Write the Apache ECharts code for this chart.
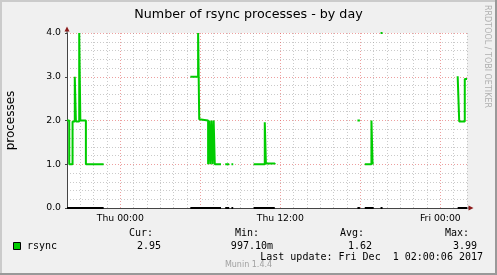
<!DOCTYPE html>
<html>
<head>
<meta charset="utf-8">
<script src="https://cdn.jsdelivr.net/npm/echarts@6/dist/echarts.min.js"></script>
<style>
html,body{margin:0;padding:0;background:#F0F0F0;}
#c{width:497px;height:275px;}
</style>
</head>
<body>
<div id="c"></div>
<script>
// ---- data ----
// sample times (day + HH:MM); a null value breaks the line
const sampleTimes = [
  'Wed 20:00','Wed 20:10','Wed 20:25','Wed 20:35','Wed 20:40','Wed 20:55','Wed 21:00','Wed 21:25','Wed 22:40','Wed 22:45',
  'Thu 05:15','Thu 05:50','Thu 05:55','Thu 06:00','Thu 06:35','Thu 06:40','Thu 06:45','Thu 06:50','Thu 06:55','Thu 07:00','Thu 07:05','Thu 07:33','Thu 07:35',
  'Thu 07:52','Thu 08:10','Thu 08:12',
  'Thu 08:20','Thu 08:28','Thu 08:30',
  'Thu 10:00','Thu 10:50','Thu 10:55','Thu 11:35','Thu 11:37',
  'Thu 17:47','Thu 17:58','Thu 17:59',
  'Thu 18:20','Thu 18:50','Thu 18:55','Thu 19:00','Thu 19:01',
  'Thu 19:31','Thu 19:40','Thu 19:42',
  'Fri 01:18','Fri 01:25','Fri 01:50','Fri 02:00'
];
const rsyncValues = [
  2, 1, 1.98, 3, 1.98, 4, 2, 1, 1, null,
  3, 4, 2.03, 2, 1, 2, 1, 2, 1, 2, 1, 1, null,
  1, 1, null,
  1, 1, null,
  1, 1.96, 1.02, 1, null,
  2, 2, null,
  1, 2, 1.02, 1.02, null,
  4, 4, null,
  3.01, 1.98, 2.95, 2.95
];
const xTickHours = [0, 12, 24];
const xTickLabels = ['Thu 00:00', 'Thu 12:00', 'Fri 00:00'];
const yTickValues = [0, 1, 2, 3, 4];
const legendName = 'rsync';
const statHeaders = ['Cur:', 'Min:', 'Avg:', 'Max:'];
const statValues = ['2.95', '997.10m', '1.62', '3.99'];
const titleText = 'Number of rsync processes - by day';
const yAxisName = 'processes';
const lastUpdate = 'Last update: Fri Dec  1 02:00:06 2017';
const footer = 'Munin 1.4.4';
const watermark = 'RRDTOOL / TOBI OETIKER';

// hours relative to Thu 00:00
const dayOffset = { Wed: -24, Thu: 0, Fri: 24 };
function toHours(s) {
  const [d, hm] = s.split(' ');
  const [h, m] = hm.split(':').map(Number);
  return dayOffset[d] + h + m / 60;
}
const rsyncData = sampleTimes.map((t, i) => [toHours(t), rsyncValues[i] === null ? '-' : rsyncValues[i]]);
const zeroData = sampleTimes.map((t, i) => [toHours(t), rsyncValues[i] === null ? '-' : 0]);

const GREEN = '#00CC00';
const MAJ = 'rgba(222,80,80,0.55)';
const MIN = 'rgba(150,150,150,0.5)';
const AXIS = '#444';
const ARROW = '#8B1A1A';
const mono = '"DejaVu Sans Mono", monospace';
const sans = '"DejaVu Sans", sans-serif';

const chart = echarts.init(document.getElementById('c'), null, { renderer: 'canvas' });

const statHeaderRight = [153, 259, 364, 469];
const statValueRight = [161, 273, 372, 477];
const graphics = [
  // frame shading
  { type: 'rect', shape: { x: 0, y: 0, width: 497, height: 2 }, style: { fill: '#CBCBCB' }, silent: true },
  { type: 'rect', shape: { x: 0, y: 0, width: 2, height: 275 }, style: { fill: '#CBCBCB' }, silent: true },
  { type: 'rect', shape: { x: 0, y: 273, width: 497, height: 2 }, style: { fill: '#999999' }, silent: true },
  { type: 'rect', shape: { x: 495, y: 0, width: 2, height: 275 }, style: { fill: '#999999' }, silent: true },
  // axis arrows
  { type: 'line', shape: { x1: 67, y1: 29, x2: 67, y2: 33 }, style: { stroke: AXIS, lineWidth: 1 }, silent: true },
  { type: 'polygon', shape: { points: [[64.5, 31.5], [69.5, 31.5], [67, 26.5]] }, style: { fill: ARROW }, silent: true },
  { type: 'line', shape: { x1: 467, y1: 208, x2: 470, y2: 208 }, style: { stroke: AXIS, lineWidth: 1 }, silent: true },
  { type: 'polygon', shape: { points: [[468.5, 205.5], [468.5, 210.5], [473.5, 208]] }, style: { fill: ARROW }, silent: true },
  // legend
  { type: 'rect', shape: { x: 13.5, y: 242.5, width: 7, height: 7 }, style: { fill: GREEN, stroke: '#000', lineWidth: 1 }, silent: true },
  { type: 'text', x: 27, y: 246.5, style: { text: legendName, font: '10px ' + mono, fill: '#000', textVerticalAlign: 'middle' }, silent: true },
  { type: 'text', x: 483, y: 257.5, style: { text: lastUpdate, font: '10px ' + mono, fill: '#000', textAlign: 'right', textVerticalAlign: 'middle' }, silent: true },
  { type: 'text', x: 248.5, y: 264.5, style: { text: footer, font: '8px ' + sans, fill: '#A0A0A0', textAlign: 'center', textVerticalAlign: 'middle' }, silent: true },
  { type: 'text', x: 491, y: 5, rotation: -Math.PI / 2, style: { text: watermark, font: '8px ' + sans, fill: '#B0B0B0', textAlign: 'left', textVerticalAlign: 'top' }, silent: true }
];
statHeaders.forEach((h, i) => {
  graphics.push({ type: 'text', x: statHeaderRight[i], y: 233.5, style: { text: h, font: '10px ' + mono, fill: '#000', textAlign: 'right', textVerticalAlign: 'middle' }, silent: true });
  graphics.push({ type: 'text', x: statValueRight[i], y: 246.5, style: { text: statValues[i], font: '10px ' + mono, fill: '#000', textAlign: 'right', textVerticalAlign: 'middle' }, silent: true });
});

chart.setOption({
  backgroundColor: '#F0F0F0',
  animation: false,
  title: {
    text: titleText, left: 'center', top: 3,
    textStyle: { fontFamily: sans, fontSize: 12.7, fontWeight: 'normal', color: '#000' }
  },
  grid: {
    left: 67, top: 33, width: 400, height: 175, show: true, backgroundColor: '#FFFFFF', borderWidth: 0,
    containLabel: false, outerBoundsMode: 'none'
  },
  xAxis: {
    type: 'value', min: -4, max: 26, interval: 1,
    axisLine: { show: true, onZero: false, lineStyle: { color: AXIS, width: 1 } },
    axisTick: { show: false },
    axisLabel: {
      margin: 6, fontFamily: sans, fontSize: 9.3, color: '#000', showMinLabel: true, showMaxLabel: true,
      formatter: v => { const k = xTickHours.indexOf(Math.round(v)); return k >= 0 ? xTickLabels[k] : ''; }
    },
    splitLine: { show: true, lineStyle: { type: [1, 2], width: 1, color: [MIN, MIN, MIN, MIN, MAJ, MIN] } }
  },
  yAxis: {
    type: 'value', min: yTickValues[0], max: yTickValues[yTickValues.length - 1], interval: 1,
    name: yAxisName, nameLocation: 'middle', nameGap: 50, nameRotate: 90,
    nameTextStyle: { fontFamily: sans, fontSize: 12, color: '#000' },
    axisLine: { show: true, onZero: false, lineStyle: { color: AXIS, width: 1 } },
    axisTick: { show: true, length: 2, lineStyle: { color: AXIS } },
    axisLabel: { margin: 6, fontFamily: sans, fontSize: 9.3, color: '#000', formatter: v => v.toFixed(1) },
    splitLine: { show: true, lineStyle: { type: [1, 2], width: 1, color: MAJ } },
    minorTick: { show: false, splitNumber: 5 },
    minorSplitLine: { show: true, lineStyle: { type: [1, 2], width: 1, color: MIN } }
  },
  series: [
    {
      name: 'zero', type: 'line', data: zeroData, step: 'end', showSymbol: false, symbol: 'none',
      lineStyle: { color: '#000', width: 2 }, connectNulls: false, z: 3
    },
    {
      name: legendName, type: 'line', data: rsyncData, step: 'end', showSymbol: false, symbol: 'none',
      lineStyle: { color: GREEN, width: 2 }, connectNulls: false, z: 4
    }
  ],
  graphic: graphics
});
</script>
</body>
</html>
